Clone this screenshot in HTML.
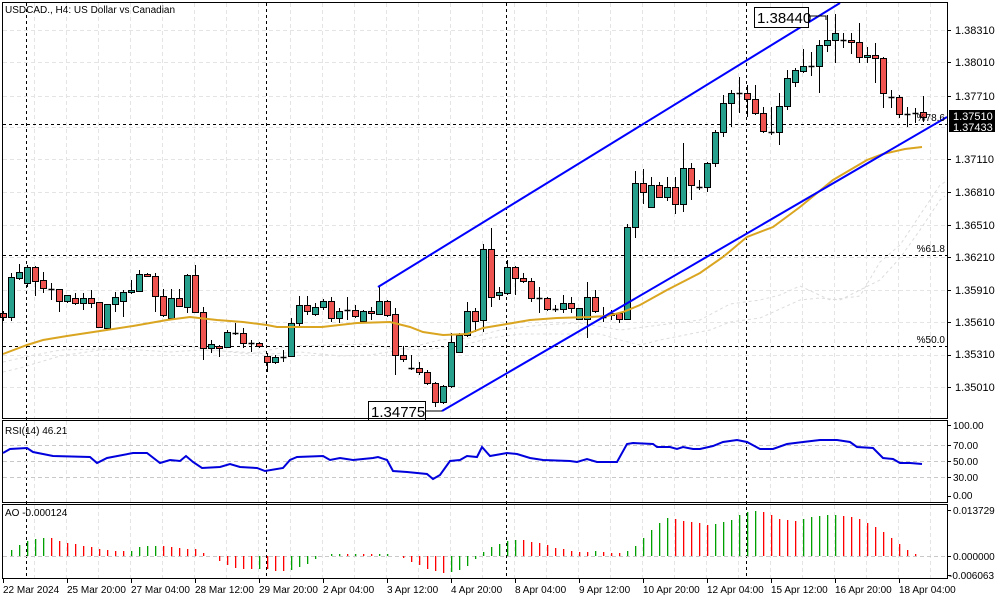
<!DOCTYPE html>
<html><head><meta charset="utf-8">
<style>
html,body{margin:0;padding:0;background:#fff;}
svg{display:block;font-family:"Liberation Sans",sans-serif;}
</style></head>
<body>
<svg id="s" width="1000" height="600" viewBox="0 0 1000 600" xmlns="http://www.w3.org/2000/svg">
<rect width="1000" height="600" fill="#fff"/>
<g id="grid" stroke="#e4e4e4" stroke-dasharray="4,3" stroke-width="1"></g>
<g fill="none" stroke="#dcdcdc" stroke-dasharray="3,3" stroke-width="1">
<polyline points="3,372 20,368 40,362 60,356 100,350 140,347 180,345 200,348 230,352 250,354 270,350 290,346 330,345 370,344 390,348 420,350 460,346 490,338 520,334 560,334 600,334 620,340 640,345 660,340 680,336 710,330 730,322 760,318 800,300 820,298 840,300 860,290 880,280 900,258 920,230 940,200 945,196"/>
<polyline points="3,362 30,356 60,350 100,349 140,350 170,352 200,350 240,352 270,354 300,352 340,356 370,355 400,350 440,340 470,338 500,330 540,325 580,323 620,330 660,325 700,320 730,304 760,300 780,295 800,286 830,300 860,296 880,262 900,245 920,215 940,185 945,182"/>
</g>
<g id="vl" stroke="#000" stroke-dasharray="3,3" stroke-width="1">
<line x1="26.5" y1="3" x2="26.5" y2="578"/>
<line x1="266.5" y1="3" x2="266.5" y2="578"/>
<line x1="506.5" y1="3" x2="506.5" y2="578"/>
<line x1="746.5" y1="3" x2="746.5" y2="578"/>
<line x1="3" y1="124.5" x2="947" y2="124.5"/>
<line x1="3" y1="255.5" x2="947" y2="255.5"/>
<line x1="3" y1="346.5" x2="947" y2="346.5"/>
</g>
<g id="candles"></g>
<polyline fill="none" stroke="#daa520" stroke-width="2" points="3,354 27,345 43,340 67,336 100,331 133,326 167,320 190,317 217,320 243,322 267,325 277,327 300,327 322,327 357,323 390,322 410,327 423,332 443,335 467,334 483,328 507,324 530,320 557,318 590,317 607,316 623,312 640,305 667,290 700,273 723,257 747,237 773,227 800,207 833,180 867,160 883,154 905,149 922,147"/>
<g stroke="#0000ff" stroke-width="2">
<line x1="378" y1="287" x2="840" y2="3"/>
<line x1="442" y1="411" x2="947" y2="117"/>
</g>
<rect x="754.5" y="7.5" width="54" height="20" fill="#fff" stroke="#000"/>
<text x="757" y="23" font-size="15">1.38440</text>
<polyline points="808,16 826,16 826,20" fill="none" stroke="#000"/>
<rect x="368.5" y="401.5" width="57" height="19" fill="#fff" stroke="#000"/>
<text x="371" y="417" font-size="15">1.34775</text>
<line x1="425" y1="411" x2="442" y2="411" stroke="#000"/>
<g font-size="10" fill="#000" text-anchor="end">
<text x="945" y="121">%78.6</text>
<text x="945" y="252">%61.8</text>
<text x="945" y="343">%50.0</text>
</g>
<text x="5" y="13" font-size="10">USDCAD., H4:  US Dollar vs Canadian</text>
<g fill="none" stroke="#000" stroke-width="1">
<rect x="2.5" y="2.5" width="945" height="416"/>
<rect x="2.5" y="420.5" width="945" height="82"/>
<rect x="2.5" y="504.5" width="945" height="74"/>
</g>
<g font-size="11" fill="#000">
<text x="955" y="34">1.38310</text>
<text x="955" y="66">1.38010</text>
<text x="955" y="100">1.37710</text>
<text x="955" y="163">1.37110</text>
<text x="955" y="196">1.36810</text>
<text x="955" y="229">1.36510</text>
<text x="955" y="261">1.36210</text>
<text x="955" y="294">1.35910</text>
<text x="955" y="326">1.35610</text>
<text x="955" y="358">1.35310</text>
<text x="955" y="391">1.35010</text>
</g>
<rect x="949" y="110" width="46" height="11" fill="#000"/>
<rect x="949" y="121" width="46" height="11" fill="#000"/>
<text x="953" y="120" font-size="11" fill="#fff">1.37510</text>
<text x="953" y="131" font-size="11" fill="#fff">1.37433</text>
<g stroke="#000" id="ticks"></g>
<g stroke="#c8c8c8" stroke-dasharray="4,3"><line x1="3" y1="445.5" x2="947" y2="445.5"/><line x1="3" y1="461.5" x2="947" y2="461.5"/><line x1="3" y1="477.5" x2="947" y2="477.5"/><line x1="3" y1="556.5" x2="947" y2="556.5"/></g>
<polyline fill="none" stroke="#0000dd" stroke-width="2" points="3,453 10,449 27,448 33,452 53,456 90,457 97,463 107,458 133,453 147,453 160,463 170,460 180,461 186,456 193,462 202,468 220,467 230,464 240,467 257,468 265,471 283,468 290,460 297,457 323,456 330,460 340,458 353,460 373,458 378,457 387,460 393,471 407,472 427,474 433,479 440,475 450,461 460,460 467,456 477,457 482,447 490,456 507,453 517,454 530,458 543,460 570,461 577,462 587,459 597,462 617,462 627,444 633,443 653,444 657,447 670,447 677,449 683,447 693,449 700,449 713,446 723,442 737,440 747,442 760,449 773,449 787,444 803,442 820,440 837,440 850,442 857,447 873,448 883,458 893,459 900,463 910,463 922,464"/>
<text x="5" y="434" font-size="10">RSI(14) 46.21</text>
<g font-size="10" fill="#000">
<text x="953" y="429">100.00</text><text x="953" y="449">70.00</text><text x="953" y="465">50.00</text><text x="953" y="481">30.00</text><text x="953" y="499">0.00</text>
<text x="953" y="514">0.013729</text><text x="953" y="560">0.000000</text><text x="949" y="579">-0.006063</text>
</g>
<text x="5" y="516" font-size="10">AO -0.000124</text>
<g id="ao"></g>
<g font-size="10" fill="#000">
<text x="3" y="593">22 Mar 2024</text><text x="67" y="593">25 Mar 20:00</text><text x="131" y="593">27 Mar 04:00</text><text x="195" y="593">28 Mar 12:00</text><text x="259" y="593">29 Mar 20:00</text><text x="323" y="593">2 Apr 04:00</text><text x="387" y="593">3 Apr 12:00</text><text x="451" y="593">4 Apr 20:00</text><text x="515" y="593">8 Apr 04:00</text><text x="579" y="593">9 Apr 12:00</text><text x="643" y="593">10 Apr 20:00</text><text x="707" y="593">12 Apr 04:00</text><text x="771" y="593">15 Apr 12:00</text><text x="835" y="593">16 Apr 20:00</text><text x="899" y="593">18 Apr 04:00</text>
</g>
</svg>
<script>
var NS="http://www.w3.org/2000/svg";
function el(p,t,a){var e=document.createElementNS(NS,t);for(var k in a)e.setAttribute(k,a[k]);p.appendChild(e);return e;}
var g=document.getElementById('grid');
for(var x=34.5;x<947;x+=32){ el(g,'line',{x1:x,y1:3,x2:x,y2:418}); el(g,'line',{x1:x,y1:421,x2:x,y2:502}); el(g,'line',{x1:x,y1:505,x2:x,y2:578});}
[30,62,96,127,159,192,225,257,290,322,355,387].forEach(function(y){el(g,'line',{x1:3,y1:y+.5,x2:947,y2:y+.5});});
var tk=document.getElementById('ticks');
[30,62,96,159,192,225,257,290,322,355,387,425,445,461,477,496,510,556,575].forEach(function(y){el(tk,'line',{x1:947,y1:y+.5,x2:951,y2:y+.5});});
for(var x=3;x<947;x+=64){el(tk,'line',{x1:x+.5,y1:579,x2:x+.5,y2:583});}
var C=[
['r',313,317,311,321],['g',277,317,273,321],['g',272,278,264,280],['g',267,283,265,287],['r',267,281,266,296],['r',280,288,272,293],['d',289,289,283,300],['r',289,301,289,312],['g',295,301,295,303],['r',298,303,293,305],
['g',298,303,293,310],['r',298,303,290,308],['r',302,327,302,328],['g',304,328,304,329],['g',297,304,292,312],['g',292,301,290,317],['g',290,292,280,294],['g',274,291,270,291],['r',274,276,273,277],['r',276,296,273,312],
['r',296,315,289,317],['g',298,318,289,318],['r',298,306,289,307],['g',275,307,274,313],['r',275,312,265,313],['r',312,348,307,360],['g',344,348,340,353],['r',346,348,345,357],['g',332,347,330,348],['d',333,333,323,335],
['r',333,343,328,348],['d',343,343,340,352],['r',343,346,342,348],['r',356,362,353,372],['g',357,362,355,364],['d',357,357,350,362],['g',323,356,318,357],['g',305,323,296,327],['r',305,311,296,315],['g',307,314,303,316],
['g',301,307,299,310],['r',301,318,297,322],['g',311,318,308,323],['d',310,310,297,320],['r',310,316,305,318],['g',311,321,310,322],['r',311,313,307,320],['g',301,314,287,315],['r',301,315,300,317],['r',314,355,308,375],
['r',355,359,346,362],['d',368,368,355,370],['r',368,372,362,375],['r',372,383,370,385],['r',383,402,382,407],['g',386,402,385,404],['g',342,386,333,388],['g',335,352,333,353],['g',311,335,302,337],['r',311,321,308,332],
['g',249,320,244,332],['r',249,297,228,307],['g',292,295,287,300],['g',267,293,260,295],['r',267,278,266,295],['r',278,281,273,283],['r',281,298,278,302],['d',298,298,287,313],['r',298,309,297,311],['d',309,309,305,312],
['g',303,309,295,313],['r',303,308,297,313],['g',308,319,308,320],['g',297,319,282,338],['r',297,311,290,313],['d',317,317,307,322],['g',313,315,310,320],['r',313,319,312,323],['g',227,319,224,320],['g',183,227,171,238],
['r',183,192,169,204],['g',185,207,177,208],['r',185,197,182,198],['g',187,197,177,201],['r',187,204,177,214],['g',168,204,143,212],['r',168,185,163,200],['d',187,187,180,190],['g',163,187,162,192],['g',132,163,130,167],
['g',103,132,95,137],['g',93,103,90,127],['d',93,93,77,113],['r',93,99,85,117],['r',99,113,85,115],['r',113,131,107,133],['d',132,132,107,135],['g',106,132,93,145],['g',78,106,70,110],['g',70,82,68,87],
['g',66,71,49,73],['d',66,66,52,76],['g',45,66,40,93],['g',40,45,15,52],['g',33,40,14,63],['d',40,40,33,48],['r',40,42,33,54],['r',42,57,23,63],['g',55,57,47,63],['r',55,58,43,83],
['r',58,93,57,108],['d',97,97,90,108],['r',97,114,95,118],['d',114,114,107,127],['d',113,113,108,123],['r',112,117,96,122]];
var cg=document.getElementById('candles');
C.forEach(function(c,k){var x=Math.round(2.7+8*k)+.5;
 el(cg,'line',{x1:x,y1:c[3],x2:x,y2:c[4],stroke:'#000','stroke-width':1});
 if(c[0]=='d'){el(cg,'line',{x1:x-3,y1:c[1]+.5,x2:x+3,y2:c[1]+.5,stroke:'#000','stroke-width':1.5});}
 else{var h=Math.max(c[2]-c[1],2);el(cg,'rect',{x:x-3,y:c[1]+.5,width:6,height:h,fill:c[0]=='g'?'#26a08c':'#ef5350',stroke:'#000','stroke-width':1});}
});
var A1=[['g',420],['g',405],['g',393],['g',387],['g',384],['r',384],['r',393],['r',400],['r',403],['r',408],['r',411],['r',417],['r',421],['r',423],['r',423],['g',423],['g',412],['g',408],['g',408],['r',408],['r',411],['r',414],['r',417],['r',417],['r',428],['r',438],['r',452],['r',465],['r',475],['r',476],['r',476],['g',476],['r',476],['r',482],['r',482],['g',480],['g',472],['g',462],['g',448],['g',438],['g',432],['g',432],['r',432],['g',432],['r',432],['r',432],['g',432],['g',432],['r',438],['r',443],['r',455],['r',465],['r',476],['r',482],['r',488],['g',485],['g',480],['g',468],['g',448],['g',425]];
var A2=[['g',410],['g',402],['g',393],['g',390],['r',390],['r',396],['r',399],['r',405],['r',414],['r',417],['r',423],['r',426],['r',426],['g',423],['r',426],['r',429],['r',429],['g',423],['g',408],['g',384],['g',360],['g',339],['g',324],['r',327],['r',333],['r',336],['r',339],['r',345],['g',342],['g',336],['g',330],['g',315],['g',306],['g',303],['r',306],['r',315],['r',327],['r',330],['r',333],['g',327],['g',321],['g',318],['g',315],['g',315],['r',318],['r',321],['r',327],['r',339],['r',351],['r',366],['r',384],['r',402],['r',420],['r',432]];
var A=A1.concat(A2);var ag=document.getElementById('ao');
A.forEach(function(a,k){var x=Math.round(10.7+8*k);var v=Math.round((438-a[1])/3);if(v==0)return;
 var y=v>0?556-v:556;el(ag,'rect',{x:x,y:y,width:1.3,height:Math.abs(v),fill:a[0]=='g'?'#00a000':'#ff0000'});});
</script>
</body></html>
